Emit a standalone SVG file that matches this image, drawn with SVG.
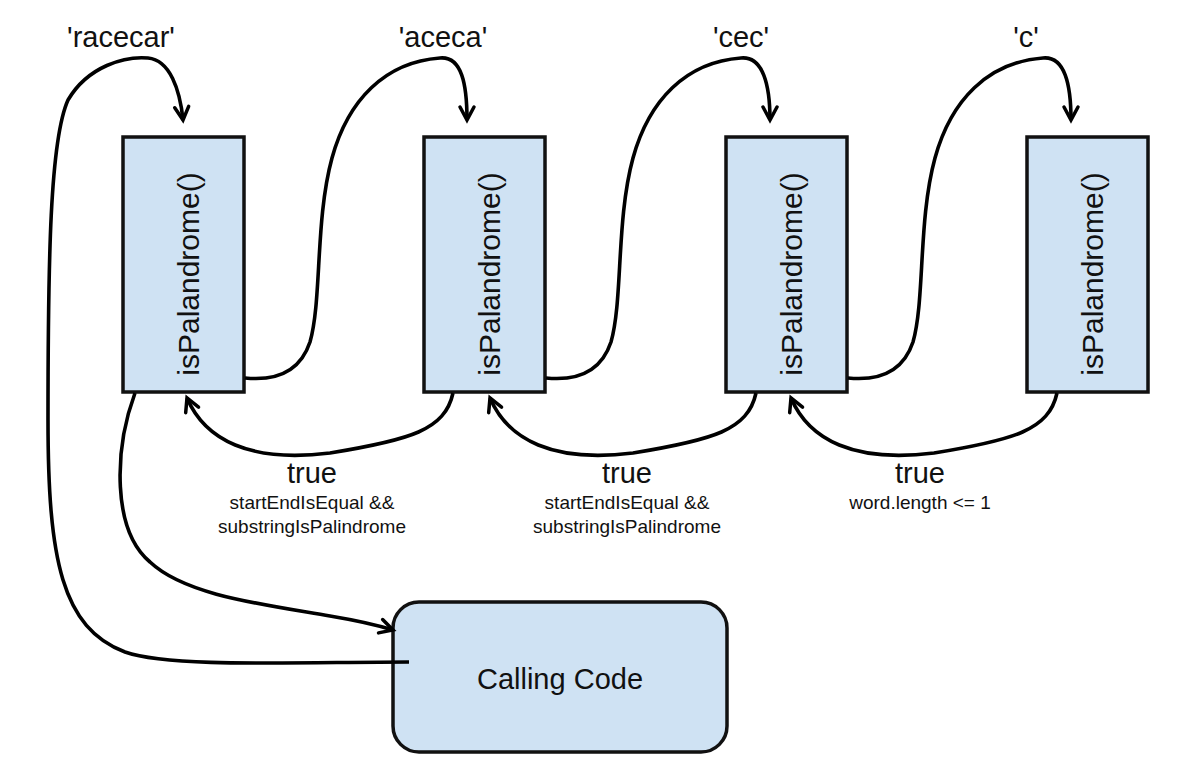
<svg xmlns="http://www.w3.org/2000/svg" width="1202" height="780" viewBox="0 0 1202 780">
<style>
.box{fill:#cfe2f3;stroke:#111;stroke-width:3.5}
.t{font-family:"Liberation Sans",Arial,sans-serif;fill:#111;text-anchor:middle}
.fn{font-size:30px}
.lbl{font-size:29px}
.small{font-size:19px}
.c{fill:none;stroke:#000;stroke-width:3.6;stroke-linecap:butt}
</style>
<defs>
<marker id="arr" markerWidth="12" markerHeight="12" refX="0" refY="0" viewBox="-10 -6 12 12" orient="auto" markerUnits="userSpaceOnUse" overflow="visible">
<path d="M-13,-7 L0,0 L-13,7" fill="none" stroke="#000" stroke-width="3.5" stroke-linejoin="miter" stroke-linecap="round"/>
</marker>
</defs>
<rect width="1202" height="780" fill="#fff"/>
<g id="label-racecar"><text class="t lbl" x="121" y="47">'racecar'</text></g>
<g id="label-aceca"><text class="t lbl" x="443" y="47">'aceca'</text></g>
<g id="label-cec"><text class="t lbl" x="741" y="47">'cec'</text></g>
<g id="label-c"><text class="t lbl" x="1026" y="47">'c'</text></g>
<g id="node1"><rect class="box" x="123" y="137" width="121" height="255"/><text class="t fn" transform="translate(199,274) rotate(-90)">isPalandrome()</text></g>
<g id="node2"><rect class="box" x="424" y="137" width="121" height="255"/><text class="t fn" transform="translate(500,274) rotate(-90)">isPalandrome()</text></g>
<g id="node3"><rect class="box" x="726" y="137" width="121" height="255"/><text class="t fn" transform="translate(802,274) rotate(-90)">isPalandrome()</text></g>
<g id="node4"><rect class="box" x="1027" y="137" width="121" height="255"/><text class="t fn" transform="translate(1103,274) rotate(-90)">isPalandrome()</text></g>
<g id="node-calling"><rect class="box" x="393" y="602" width="334" height="150" rx="26"/><text class="t lbl" x="560" y="689">Calling Code</text></g>
<g id="label-ret1"><text class="t lbl" x="312" y="483">true</text><text class="t small" x="312" y="509">startEndIsEqual &amp;&amp;</text><text class="t small" x="312" y="533">substringIsPalindrome</text></g>
<g id="label-ret2"><text class="t lbl" x="627" y="483">true</text><text class="t small" x="627" y="509">startEndIsEqual &amp;&amp;</text><text class="t small" x="627" y="533">substringIsPalindrome</text></g>
<g id="label-ret3"><text class="t lbl" x="920" y="483">true</text><text class="t small" x="920" y="509">word.length &lt;= 1</text></g>
<g id="connectors">
<path class="c" d="M409,662 C300,662 170,668 125,652 C62,628 48,560 48,420 C48,260 50,140 68,100 C88,66 125,56 148,58 C170,60 180,90 183,120" marker-end="url(#arr)"/>
<path class="c" d="M135,393 C114,450 112,530 150,562 C185,595 260,604 330,616 C360,621 380,626 393,630" marker-end="url(#arr)"/>
<path class="c" d="M245,378 C275,381 300,372 310,342 C322,300 315,220 332,158 C348,100 385,62 440,58 C462,56 467,85 467,120" marker-end="url(#arr)"/>
<path class="c" d="M546,378 C576,381 601,372 611,342 C623,300 616,220 633,158 C649,100 686,62 741,58 C763,56 770,85 770,120" marker-end="url(#arr)"/>
<path class="c" d="M848,378 C878,381 903,372 913,342 C925,300 918,220 935,158 C951,100 988,62 1043,58 C1065,56 1071,85 1071,120" marker-end="url(#arr)"/>
<path class="c" d="M453,393 C445,430 410,440 330,453 C250,463 205,440 187,398" marker-end="url(#arr)"/>
<path class="c" d="M756,393 C748,430 713,440 633,453 C553,463 508,440 490,398" marker-end="url(#arr)"/>
<path class="c" d="M1057,393 C1049,430 1014,440 934,453 C854,463 809,440 791,398" marker-end="url(#arr)"/>
</g>
</svg>
